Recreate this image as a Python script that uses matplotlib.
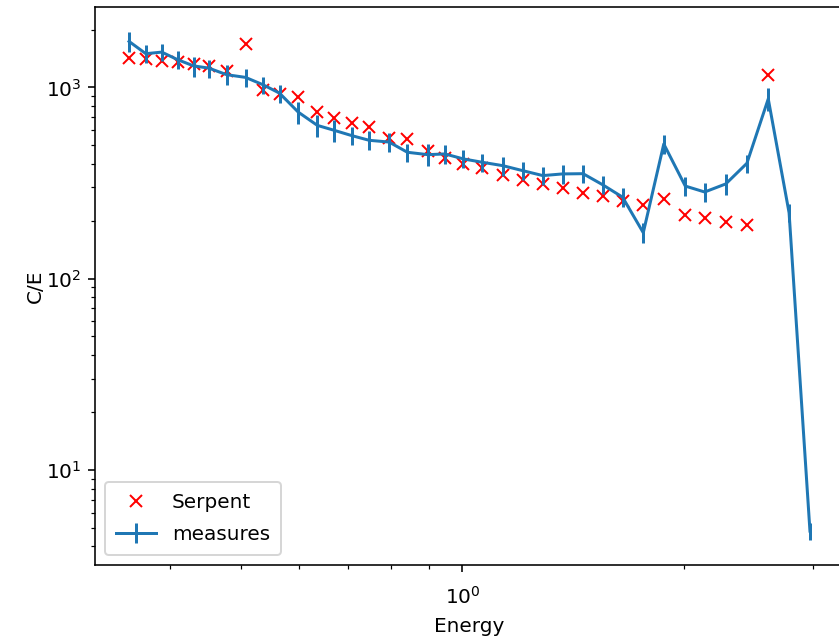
import numpy as np
import matplotlib
matplotlib.use('Agg')
import matplotlib.pyplot as plt

# Data
energy = [0.352, 0.371, 0.390, 0.410, 0.431, 0.452, 0.478, 0.507, 0.536, 0.564,
          0.598, 0.635, 0.669, 0.707, 0.747, 0.795, 0.842, 0.898, 0.947, 1.003,
          1.065, 1.135, 1.209, 1.287, 1.369, 1.460, 1.552, 1.652, 1.763, 1.880,
          2.011, 2.137, 2.283, 2.439, 2.608, 2.784, 2.972]

serpent = [1422, 1409, 1372, 1356, 1330, 1293, 1220, 1677, 973, 919,
           892, 743, 689, 653, 618, 545, 535, 466, 430, 398,
           379, 350, 330, 313, 298, 281, 271, 254, 243, 262,
           215, 208, 199, 192, 1155]

measures = [1739, 1500, 1529, 1395, 1295, 1261, 1165, 1128, 1031, 933,
            743, 633, 597, 560, 529, 518, 458, 445, 449, 423,
            406, 390, 367, 346, 353, 354, 310, 267, 174, 506,
            305, 284, 313, 401, 871, 221, 4.8]

measures_err = [200, 162, 158, 151, 155, 136, 139, 122, 107, 102,
                96, 84, 77, 58, 60, 60, 50, 59, 49, 46,
                44, 44, 39, 38, 41, 39, 34, 30, 21, 60,
                34, 31, 38, 44, 116, 24, 0.47]

# Figure
fig = plt.figure(figsize=(839 / 144, 639 / 144), dpi=144)
ax = fig.add_axes([95 / 839, 74 / 639, 749 / 839, 558 / 639])

ax.plot(energy[:len(serpent)], serpent, 'rx', label='Serpent')
ax.errorbar(energy, measures, yerr=measures_err, label='measures')

ax.set_xscale('log')
ax.set_yscale('log')
ax.tick_params(axis='x', which='major', pad=7)
ax.set_xlabel('Energy', labelpad=4.5)
ax.set_ylabel('C/E', labelpad=0.5)

# Legend
ax.legend(loc='lower left', labelspacing=0.65, borderpad=0.55)

fig.savefig('out.png', dpi=144)
